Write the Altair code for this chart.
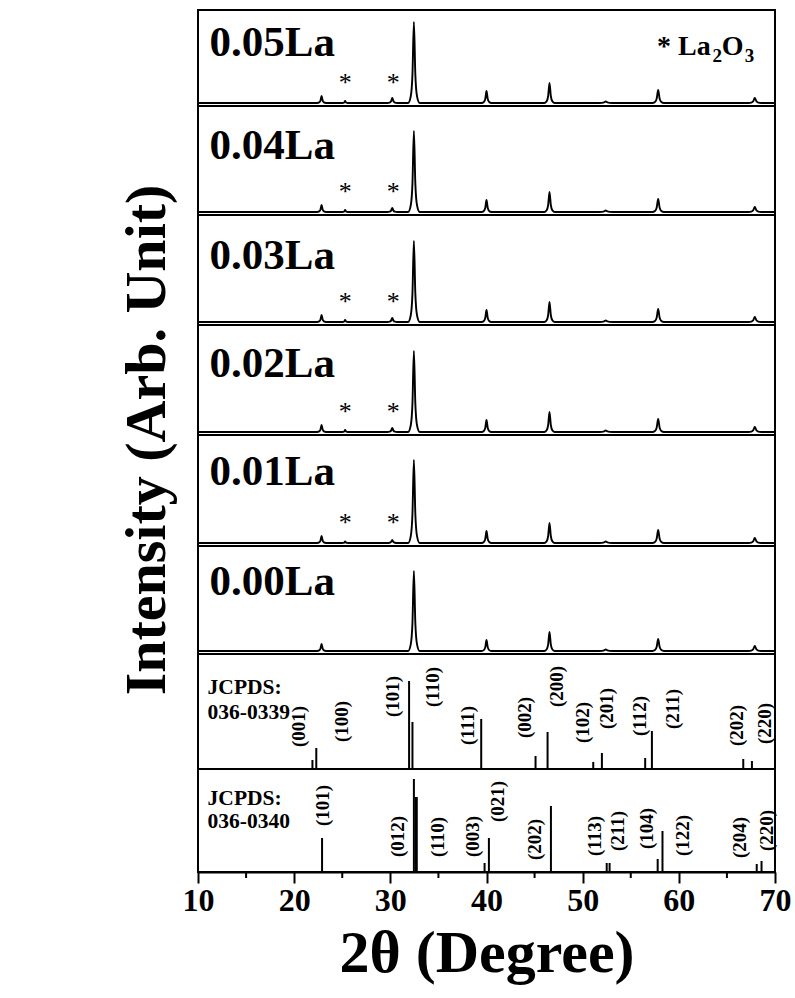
import altair as alt
import pandas as pd

FONT = "Liberation Serif"

# ---------------- data ----------------
samples = ["0.05La", "0.04La", "0.03La", "0.02La", "0.01La", "0.00La"]
# observed diffraction peaks (2theta, degrees)
peak_pos = [22.85, 25.3, 30.2, 32.45, 40.0, 46.55, 52.4, 57.85, 67.9]
# peak heights (arb.) per sample, same order as peak_pos
h_005 = [7, 2, 5, 81, 12, 20, 1.5, 13, 5]
h_004 = [7, 2, 4, 81, 12, 20, 1.5, 13, 5]
h_003 = [7, 2, 4, 81, 12, 20, 1.5, 13, 5]
h_002 = [7, 2, 4, 81, 12, 20, 1.5, 13, 5]
h_001 = [7, 1.5, 3, 83, 12, 20, 1.5, 13, 5]
h_000 = [7, 0, 0, 80, 11, 19, 1.5, 12, 5]
heights = [h_005, h_004, h_003, h_002, h_001, h_000]
# half base width of each peak (deg)
peak_hw = [0.45, 0.35, 0.5, 0.6, 0.5, 0.55, 0.7, 0.6, 0.65]
la2o3_pos = [25.3, 30.3]

# JCPDS 036-0339
j1_pos = [21.9, 22.3, 31.95, 32.3, 39.45, 45.1, 46.35, 51.1, 52.0, 56.5, 57.2, 66.7, 67.6]
j1_h = [9, 21, 88, 47, 50, 13, 37, 7, 16, 11, 38, 10, 8]
j1_lab = ["(001)", "(100)", "(101)", "(110)", "(111)", "(002)", "(200)", "(102)", "(201)", "(112)", "(211)", "(202)", "(220)"]
j1_lab_x = [20.55, 25.0, 30.3, 34.4, 38.1, 44.0, 47.3, 50.0, 52.5, 56.0, 59.4, 66.0, 68.95]
j1_lab_y = [22, 27, 52, 62, 24, 31, 62, 26, 40, 33, 40, 23, 25]

# JCPDS 036-0340
j2_pos = [22.9, 32.45, 32.65, 32.75, 39.8, 40.25, 46.7, 52.5, 52.8, 57.8, 58.3, 68.1, 68.6]
j2_h = [34, 93, 75, 75, 9, 34, 66, 9, 9, 13, 41, 8, 11]
j2_lab = ["(101)", "(012)", "(110)", "(003)", "(021)", "(202)", "(113)", "(211)", "(104)", "(122)", "(204)", "(220)"]
j2_lab_x = [23.0, 30.8, 35.0, 38.6, 41.2, 45.0, 51.3, 53.7, 56.7, 60.4, 66.35, 69.2]
j2_lab_y = [46, 15, 15, 15, 50, 12, 16, 21, 23, 16, 14, 21]

major_ticks = [10, 20, 30, 40, 50, 60, 70]
minor_ticks = [15, 25, 35, 45, 55, 65]

# ---------------- layout (plot units = pixels from bottom) ----------------
W, H = 577, 862
separators = [766, 657, 547, 437, 326, 218, 103]
baselines = [s + 3 for s in separators[:6]]
label_y = [816, 713, 603, 495, 387, 277]
j1_base, j2_base = 103, 0

# peak profile template (relative x in half-widths, relative height)
tpl_dx = [-1, -0.55, -0.25, 0, 0.25, 0.55, 1]
tpl_fy = [0, 0.08, 0.35, 1, 0.35, 0.08, 0]

rows = []
for s, hs, b in zip(samples, heights, baselines):
    pts = [(10.0, 0.0), (70.0, 0.0)]
    for p, h, w in zip(peak_pos, hs, peak_hw):
        if h <= 0:
            continue
        for dx, fy in zip(tpl_dx, tpl_fy):
            pts.append((p + dx * w, h * fy))
    pts.sort()
    for x, y in pts:
        rows.append({"sample": s, "x": x, "y": b + y})
traces = pd.DataFrame(rows)

xs = alt.Scale(domain=[10, 70], nice=False, zero=False)
ys = alt.Scale(domain=[0, H], nice=False, zero=False)

x_axis = alt.Axis(
    values=major_ticks, labelFlush=False,
    tickSize=11, tickWidth=2, tickColor="black", domainWidth=2, domainColor="black",
    labelFont=FONT, labelFontSize=32, labelFontWeight="bold", labelColor="black",
    labelPadding=2, grid=False,
    title="2θ (Degree)", titleFont=FONT, titleFontSize=60, titleFontWeight="bold",
    titleColor="black", titlePadding=8,
)

line = alt.Chart(traces).mark_line(color="black", strokeWidth=1.9, interpolate="monotone").encode(
    x=alt.X("x:Q", scale=xs, axis=x_axis),
    y=alt.Y("y:Q", scale=ys, axis=None),
    detail="sample:N",
)

minor = alt.Chart(pd.DataFrame({"x": minor_ticks})).mark_rule(color="black", strokeWidth=2).encode(
    x=alt.X("x:Q", scale=xs), y=alt.value(H), y2=alt.value(H + 6)
)

sep = alt.Chart(pd.DataFrame({"y": separators})).mark_rule(color="black", strokeWidth=2).encode(
    y=alt.Y("y:Q", scale=ys)
)

lab = alt.Chart(pd.DataFrame({"t": samples, "x": [11.2] * 6, "y": label_y})).mark_text(
    font=FONT, fontSize=43, fontWeight="bold", align="left", baseline="alphabetic", color="black"
).encode(x=alt.X("x:Q", scale=xs), y=alt.Y("y:Q", scale=ys), text="t:N")

ast_rows = []
for s, b in zip(samples[:5], baselines[:5]):
    for p in la2o3_pos:
        ast_rows.append({"x": p, "y": b + 12, "t": "*"})
ast = alt.Chart(pd.DataFrame(ast_rows)).mark_text(
    font=FONT, fontSize=26, align="center", baseline="alphabetic", color="black"
).encode(x=alt.X("x:Q", scale=xs), y=alt.Y("y:Q", scale=ys), text="t:N")

leg_main = alt.Chart(pd.DataFrame({"t": ["* La", "O"], "x": [57.73, 64.45], "y": [817, 817]})).mark_text(
    font=FONT, fontSize=28, fontWeight="bold", align="left", baseline="alphabetic", color="black"
).encode(x=alt.X("x:Q", scale=xs), y=alt.Y("y:Q", scale=ys), text="t:N")
leg_sub = alt.Chart(pd.DataFrame({"t": ["2", "3"], "x": [63.5, 66.85], "y": [810, 810]})).mark_text(
    font=FONT, fontSize=19, fontWeight="bold", align="left", baseline="alphabetic", color="black"
).encode(x=alt.X("x:Q", scale=xs), y=alt.Y("y:Q", scale=ys), text="t:N")

j1 = pd.DataFrame({"x": j1_pos, "y": [j1_base] * len(j1_pos), "y2": [j1_base + h for h in j1_h]})
j2 = pd.DataFrame({"x": j2_pos, "y": [j2_base] * len(j2_pos), "y2": [j2_base + h for h in j2_h]})
bars1 = alt.Chart(j1).mark_rule(color="black", strokeWidth=2).encode(
    x=alt.X("x:Q", scale=xs), y=alt.Y("y:Q", scale=ys), y2="y2:Q")
bars2 = alt.Chart(j2).mark_rule(color="black", strokeWidth=2).encode(
    x=alt.X("x:Q", scale=xs), y=alt.Y("y:Q", scale=ys), y2="y2:Q")

l1 = pd.DataFrame({"t": j1_lab, "x": j1_lab_x, "y": [j1_base + v for v in j1_lab_y]})
l2 = pd.DataFrame({"t": j2_lab, "x": j2_lab_x, "y": [j2_base + v for v in j2_lab_y]})
hkl_style = dict(font=FONT, fontSize=19, fontWeight="bold", angle=270, align="left", baseline="middle", color="black")
hkl1 = alt.Chart(l1).mark_text(**hkl_style).encode(x=alt.X("x:Q", scale=xs), y=alt.Y("y:Q", scale=ys), text="t:N")
hkl2 = alt.Chart(l2).mark_text(**hkl_style).encode(x=alt.X("x:Q", scale=xs), y=alt.Y("y:Q", scale=ys), text="t:N")

jc = pd.DataFrame({"t": ["JCPDS:", "036-0339", "JCPDS:", "036-0340"], "x": [11.0] * 4, "y": [178, 153, 67, 44]})
jct = alt.Chart(jc).mark_text(
    font=FONT, fontSize=21.5, fontWeight="bold", align="left", baseline="alphabetic", color="black"
).encode(x=alt.X("x:Q", scale=xs), y=alt.Y("y:Q", scale=ys), text="t:N")

ytitle = alt.Chart(pd.DataFrame({"t": ["Intensity (Arb. Unit)"]})).mark_text(
    font=FONT, fontSize=58, fontWeight="bold", angle=270, align="center", baseline="middle", color="black"
).encode(x=alt.value(-50), y=alt.value(430), text="t:N")

chart = alt.layer(line, sep, minor, lab, ast, leg_main, leg_sub, bars1, bars2, hkl1, hkl2, jct, ytitle).properties(
    width=W, height=H,
    autosize=alt.AutoSizeParams(type="none"),
    padding={"left": 198, "top": 10, "right": 20, "bottom": 126},
    background="white",
).configure_view(stroke="black", strokeWidth=2)

chart.save("out.html", embed_options={"renderer": "svg", "actions": False})
